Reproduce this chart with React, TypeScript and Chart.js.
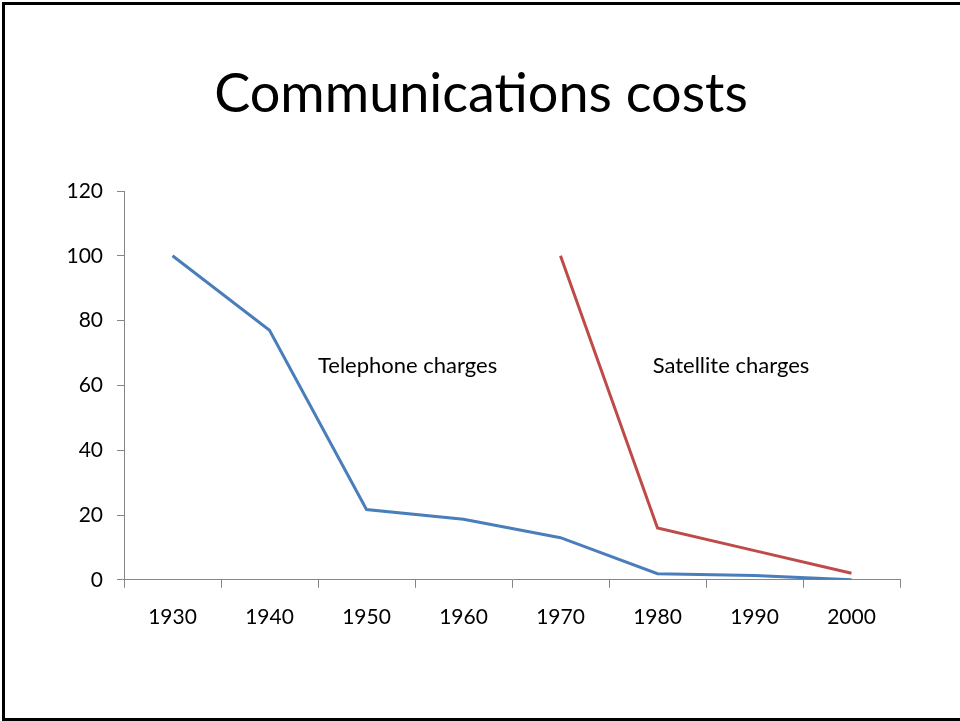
import React, { useEffect, useRef } from "react";
import { Chart, registerables } from "chart.js";

Chart.register(...registerables);

const TITLE = "Communications costs";
const YEARS = ["1930", "1940", "1950", "1960", "1970", "1980", "1990", "2000"];
const TELEPHONE = [100, 77, 21.7, 18.7, 13, 1.9, 1.3, 0];
const SATELLITE = [null, null, null, null, 100, 16, 9, 2];
const Y_MIN = 0;
const Y_MAX = 120;
const Y_STEP = 20;
const LABELS = ["Telephone charges", "Satellite charges"];
const LABEL_X = [1.5, 4.95];
const LABEL_Y = [66, 66];

const FONT = "Lato, 'Open Sans', sans-serif";

const textPlugin = {
  id: "texts",
  afterDatasetsDraw(chart: any) {
    const { ctx, scales, width } = chart;
    ctx.save();
    ctx.fillStyle = "#000";
    ctx.font = `54px ${FONT}`;
    ctx.textAlign = "center";
    ctx.textBaseline = "alphabetic";
    ctx.fillText(TITLE, width / 2 + 1, 112);
    ctx.font = `22px ${FONT}`;
    ctx.textAlign = "left";
    ctx.textBaseline = "middle";
    LABELS.forEach((t, i) => {
      ctx.fillText(t, scales.x.getPixelForValue(LABEL_X[i]), scales.y.getPixelForValue(LABEL_Y[i]));
    });
    ctx.restore();
  },
};

export default function App() {
  const ref = useRef<HTMLCanvasElement>(null);
  useEffect(() => {
    const chart = new Chart(ref.current!, {
      type: "line",
      data: {
        labels: YEARS,
        datasets: [
          {
            label: "Telephone charges",
            data: TELEPHONE,
            borderColor: "#4A7EBB",
            borderWidth: 3,
            pointRadius: 0,
            tension: 0,
          },
          {
            label: "Satellite charges",
            data: SATELLITE,
            borderColor: "#BE4B48",
            borderWidth: 3,
            pointRadius: 0,
            tension: 0,
          },
        ],
      },
      options: {
        responsive: false,
        animation: false,
        layout: { padding: { left: 0, right: 60, top: 191, bottom: 74 } },
        plugins: {
          legend: { display: false },
          tooltip: { enabled: false },
          title: { display: false },
        },
        scales: {
          x: {
            offset: true,
            grid: {
              offset: true,
              drawOnChartArea: false,
              tickLength: 8,
              color: "#868686",
            },
            border: { color: "#868686", width: 1 },
            ticks: {
              color: "#000",
              font: { family: FONT, size: 21 },
              padding: 17,
              maxRotation: 0,
            },
          },
          y: {
            min: Y_MIN,
            max: Y_MAX,
            grid: { drawOnChartArea: false, tickLength: 7, color: "#868686" },
            border: { color: "#868686", width: 1 },
            ticks: {
              stepSize: Y_STEP,
              color: "#000",
              font: { family: FONT, size: 21 },
              padding: 14,
            },
            afterFit(scale: any) {
              scale.width = 124;
            },
          },
        },
      },
      plugins: [textPlugin],
    });
    return () => chart.destroy();
  }, []);

  return (
    <div style={{ position: "fixed", left: 0, top: 0, width: 960, height: 721, overflow: "hidden", background: "#fff" }}>
      <div
        style={{
          position: "absolute",
          left: 2,
          top: 2,
          width: 1000,
          height: 719,
          boxSizing: "border-box",
          border: "3px solid #000",
        }}
      />
      <canvas ref={ref} width={960} height={721} style={{ position: "absolute", left: 0, top: 0 }} />
    </div>
  );
}
